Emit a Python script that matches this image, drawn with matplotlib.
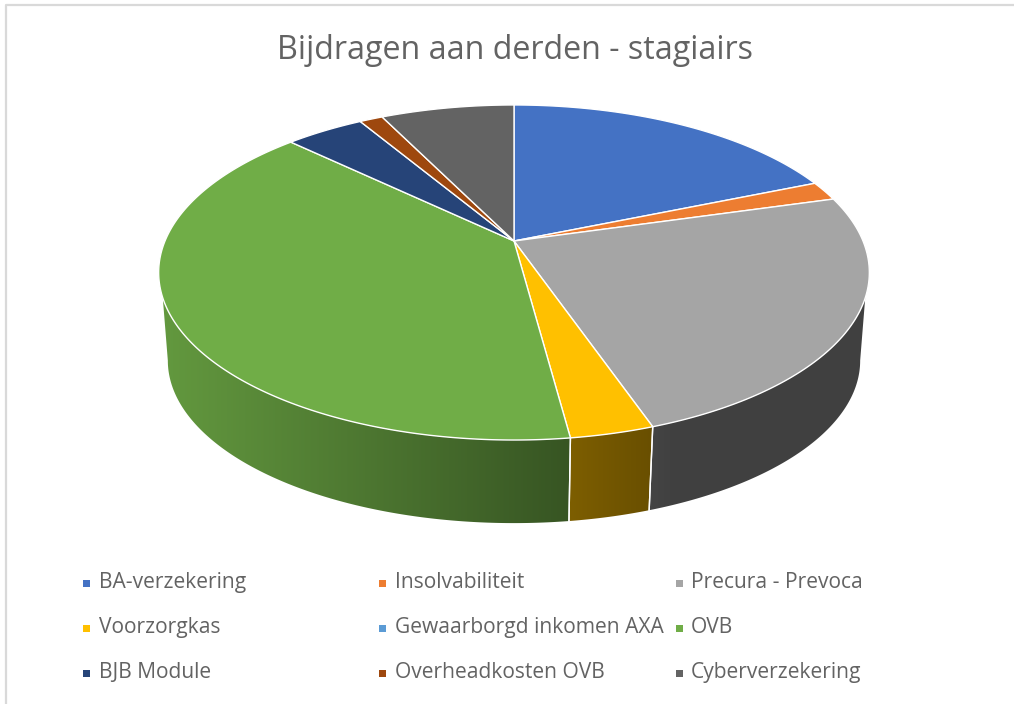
import numpy as np
import matplotlib
matplotlib.use("Agg")
import matplotlib.pyplot as plt
from matplotlib.patches import Polygon, Rectangle
from matplotlib.colors import to_rgb

TITLE = "Bijdragen aan derden - stagiairs"
categories = ["BA-verzekering", "Insolvabiliteit", "Precura - Prevoca",
              "Voorzorgkas", "Gewaarborgd inkomen AXA", "OVB",
              "BJB Module", "Overheadkosten OVB", "Cyberverzekering"]
shares = [18.75, 1.85, 24.1, 3.2, 0.0, 39.25, 4.3, 1.27, 7.28]
colors = ["#4472C4", "#ED7D31", "#A5A5A5", "#FFC000", "#5B9BD5",
          "#70AD47", "#264478", "#9E480E", "#636363"]

W, H = 1014, 704
plt.rcParams['font.family'] = ['Open Sans', 'DejaVu Sans']
fig = plt.figure(figsize=(W / 100, H / 100), dpi=100, facecolor="white")
ax = fig.add_axes([0, 0, 1, 1])
ax.axis("off")

# perspective projection of a horizontal disc to the page
K = 0.188
CX, CY, A, B = 514.0, 241.0, 349.0, 161.6
CY2, A2, B2 = 330.0, 340.0, 156.8


def top(t):
    u, v = np.sin(t), np.cos(t)
    w = 1 + K * v
    return CX + A * u / w, CY - B * v / w


def bottom(t):
    u, v = np.sin(t), np.cos(t)
    w = 1 + K * v
    return CX + A2 * u / w, CY2 - B2 * v / w


def shade(x):
    return np.clip(0.88 - 0.000962 * (x - 165), 0.39, 0.88)


edges = np.radians(np.cumsum([0] + shares) / sum(shares) * 360)
VIS0, VIS1 = np.radians(109.3), np.radians(250.7)
BOT0, BOT1 = np.radians(100.8), np.radians(259.2)

# frame
ax.plot([1014, 6, 6], [5, 5, 704], color="#d9d9d9", lw=1.6, zorder=0)

# side wall: a horizontal colour ramp clipped to each slice's wall
for i, col in enumerate(colors):
    a, b = max(edges[i], VIS0), min(edges[i + 1], VIS1)
    if b <= a:
        continue
    ts = np.linspace(a, b, max(3, int(np.degrees(b - a) * 2)))
    ba = BOT0 if a <= VIS0 else a
    bb = BOT1 if b >= VIS1 else b
    tb = np.linspace(bb, ba, max(3, int(np.degrees(bb - ba) * 2)))
    xt, yt = top(ts)
    xb, yb = bottom(tb)
    pts = np.column_stack([np.r_[xt, xb], np.r_[yt, yb]])
    x0, x1 = pts[:, 0].min() - 2, pts[:, 0].max() + 2
    y0, y1 = pts[:, 1].min() - 2, pts[:, 1].max() + 2
    xs = np.linspace(x0, x1, 300)
    ramp = np.array(to_rgb(col))[None, None, :] * shade(xs)[None, :, None]
    poly = Polygon(pts, closed=True, fc="none", ec="none", transform=ax.transData)
    ax.add_patch(poly)
    im = ax.imshow(ramp, extent=(x0, x1, y1, y0), aspect="auto", zorder=1,
                   interpolation="bilinear")
    im.set_clip_path(poly)
    for t in (a, b):
        if VIS0 < t < VIS1:
            xa, ya = top(t)
            xc, yc = bottom(t)
            ax.plot([xa, xc], [ya, yc], color="white", lw=1.0, zorder=2)

# top face
for i, col in enumerate(colors):
    if shares[i] == 0:
        continue
    ts = np.linspace(edges[i], edges[i + 1], max(3, int(shares[i] * 8)))
    xs, ys = top(ts)
    pts = np.column_stack([np.r_[CX, xs], np.r_[CY, ys]])
    ax.add_patch(Polygon(pts, closed=True, fc=col, ec="white", lw=1.0,
                         joinstyle="round", zorder=3))

# legend
col_marker = [86, 382, 679]
col_text = [99, 395, 691]
row_y = [588, 633, 678]
for i, (lab, col) in enumerate(zip(categories, colors)):
    r, c = i // 3, i % 3
    ax.add_patch(Rectangle((col_marker[c] - 3.5, row_y[r] - 8.5), 7, 7, fc=col, ec="none", zorder=4))
    ax.text(col_text[c], row_y[r], lab, fontsize=15.1, color="#636363",
            va="baseline", ha="left", zorder=4)

ax.text(515, 59, TITLE, fontsize=23.2, color="#636363", ha="center", va="baseline", zorder=4)

ax.set_xlim(0, W)
ax.set_ylim(H, 0)
fig.savefig("out.png", dpi=100, facecolor="white")
